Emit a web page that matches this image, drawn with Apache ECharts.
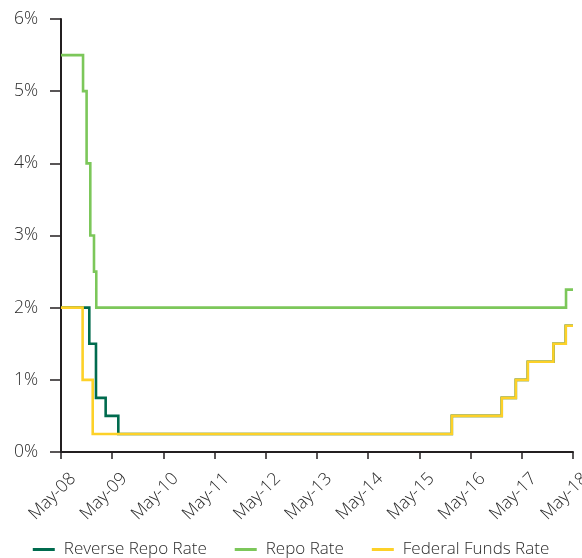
<!DOCTYPE html>
<html>
<head>
<meta charset="utf-8">
<script src="https://cdn.jsdelivr.net/npm/echarts@6/dist/echarts.min.js"></script>
<style>
  html, body { margin: 0; padding: 0; background: #fff; }
  #chart { width: 582px; height: 558px; }
</style>
</head>
<body>
<div id="chart"></div>
<script>
// Policy rates, recorded as the date each rate took effect (%)
const reverseRepoRate = [
  ['2008-05-01', 2.0], ['2008-11-20', 1.5], ['2009-01-07', 0.75], ['2009-03-15', 0.5],
  ['2009-06-14', 0.25], ['2015-12-19', 0.5], ['2016-12-10', 0.75], ['2017-03-19', 1.0],
  ['2017-06-13', 1.25], ['2017-12-13', 1.5], ['2018-03-10', 1.75], ['2018-05-01', 1.75]
];
const repoRate = [
  ['2008-05-01', 5.5], ['2008-10-06', 5.0], ['2008-11-01', 4.0], ['2008-11-27', 3.0],
  ['2008-12-23', 2.5], ['2009-01-09', 2.0], ['2018-03-12', 2.25], ['2018-05-01', 2.25]
];
const federalFundsRate = [
  ['2008-05-01', 2.0], ['2008-10-03', 1.0], ['2008-12-14', 0.25], ['2015-12-19', 0.5],
  ['2016-12-10', 0.75], ['2017-03-19', 1.0], ['2017-06-13', 1.25], ['2017-12-13', 1.5],
  ['2018-03-10', 1.75], ['2018-05-01', 1.75]
];
const xTickLabels = ['May-08', 'May-09', 'May-10', 'May-11', 'May-12', 'May-13',
                     'May-14', 'May-15', 'May-16', 'May-17', 'May-18'];
const yTickValues = [0, 1, 2, 3, 4, 5, 6];

// Months elapsed since May 2008
function monthsSinceStart(dateStr) {
  const [y, m, d] = dateStr.split('-').map(Number);
  return (y - 2008) * 12 + (m - 5) + (d - 1) / 30;
}
const toPoints = arr => arr.map(([d, v]) => [monthsSinceStart(d), v]);

const textColor = '#2b2b2b';
const font = '"Open Sans", sans-serif';

const chart = echarts.init(document.getElementById('chart'), null, { renderer: 'canvas' });

function lineSeries(name, data, color) {
  return {
    name, type: 'line', step: 'end', data: toPoints(data),
    showSymbol: false, symbol: 'none',
    lineStyle: { color, width: 2.6, join: 'miter', cap: 'butt' },
    itemStyle: { color },
    animation: false
  };
}

chart.setOption({
  animation: false,
  grid: { left: 61, right: 9, top: 19, bottom: 106, containLabel: false, outerBoundsMode: 'none' },
  xAxis: {
    type: 'value', min: 0, max: 120, interval: 12,
    axisLine: { show: true, onZero: false, lineStyle: { color: '#231f20', width: 2 } },
    axisTick: { show: true, length: 7, lineStyle: { color: '#231f20', width: 1.5 } },
    splitLine: { show: false },
    axisLabel: {
      rotate: 45, margin: 12, align: 'right', verticalAlign: 'top', padding: [8, 0, 0, 0],
      color: textColor, fontFamily: font, fontWeight: 300, fontSize: 17.5,
      hideOverlap: false,
      formatter: v => xTickLabels[Math.round(v / 12)]
    }
  },
  yAxis: {
    type: 'value', min: yTickValues[0], max: yTickValues[yTickValues.length - 1], interval: 1,
    axisLine: { show: true, lineStyle: { color: '#231f20', width: 2 } },
    axisTick: { show: true, length: 11, lineStyle: { color: '#231f20', width: 1.5 } },
    splitLine: { show: false },
    axisLabel: {
      margin: 23, color: textColor, fontFamily: font, fontWeight: 300, fontSize: 17.5,
      formatter: v => v + '%'
    }
  },
  legend: {
    top: 536, left: 'center', itemGap: 28, itemWidth: 22, itemHeight: 3, icon: 'rect',
    textStyle: { color: textColor, fontFamily: font, fontWeight: 300, fontSize: 17, padding: [0, 0, 0, 4] },
    data: ['Reverse Repo Rate', 'Repo Rate', 'Federal Funds Rate']
  },
  series: [
    lineSeries('Reverse Repo Rate', reverseRepoRate, '#006b4e'),
    lineSeries('Repo Rate', repoRate, '#7cc75a'),
    lineSeries('Federal Funds Rate', federalFundsRate, '#fdd128')
  ]
});
</script>
</body>
</html>
